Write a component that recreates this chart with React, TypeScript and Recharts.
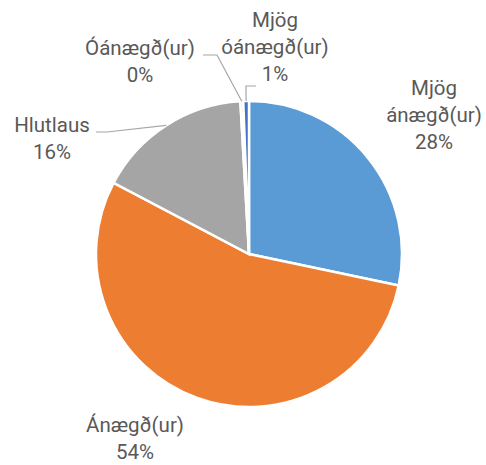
import { PieChart, Pie, Cell } from "recharts";

const TEXT = "#595959";
const LEADER = "#a6a6a6";

const CATEGORIES = [
  "Mjög ánægð(ur)",
  "Ánægð(ur)",
  "Hlutlaus",
  "Óánægð(ur)",
  "Mjög óánægð(ur)",
];
const VALUES = [28.3, 54.4, 16.4, 0.3, 0.6];
const COLORS = ["#5b9bd5", "#ed7d31", "#a5a5a5", "#ffc000", "#4472c4"];
// how each label's name is broken over lines
const NAME_LINES = [
  ["Mjög", "ánægð(ur)"],
  ["Ánægð(ur)"],
  ["Hlutlaus"],
  ["Óánægð(ur)"],
  ["Mjög", "óánægð(ur)"],
];

const data = CATEGORIES.map((name, i) => ({ name, value: VALUES[i] }));

// label placement relative to the pie centre: text centre x, first baseline y,
// and an optional leader line (start, knee) that runs on to the slice edge
const LABEL_LAYOUT: { dx: number; dy: number; leader?: number[][] }[] = [
  { dx: 185, dy: -159 },
  { dx: -114, dy: 178 },
  { dx: -197, dy: -122, leader: [[-153, -122], [-142, -122]] },
  { dx: -109, dy: -199, leader: [[-46, -199], [-32, -199]] },
  { dx: 26, dy: -227, leader: [[7, -168], [-3, -168]] },
];

const LINE_H = 27;

function renderLabel(props: any) {
  const { cx, cy, midAngle, outerRadius, index, percent } = props;
  const lay = LABEL_LAYOUT[index];
  const lines = [...NAME_LINES[index], `${Math.round(percent * 100)}%`];
  const rad = (Math.PI / 180) * midAngle;
  const ex = cx + outerRadius * Math.cos(rad);
  const ey = cy - outerRadius * Math.sin(rad);
  return (
    <g key={`lbl-${index}`}>
      {lay.leader && (
        <polyline
          points={[...lay.leader.map(([x, y]) => `${cx + x},${cy + y}`), `${ex},${ey}`].join(" ")}
          fill="none"
          stroke={LEADER}
          strokeWidth={1.2}
        />
      )}
      <text
        x={cx + lay.dx}
        y={cy + lay.dy}
        textAnchor="middle"
        fill={TEXT}
        fontSize={20.5}
        fontFamily="Roboto, sans-serif"
      >
        {lines.map((l, i) => (
          <tspan key={i} x={cx + lay.dx} dy={i === 0 ? 0 : LINE_H}>
            {l}
          </tspan>
        ))}
      </text>
    </g>
  );
}

export default function App() {
  return (
    <div style={{ position: "absolute", left: 0, top: 0, background: "#fff" }}>
      <PieChart width={486} height={465} margin={{ top: 0, right: 0, bottom: 0, left: 0 }}>
        <Pie
          data={data}
          dataKey="value"
          nameKey="name"
          cx={249}
          cy={254}
          outerRadius={153}
          startAngle={90}
          endAngle={-270}
          stroke="#ffffff"
          strokeWidth={2.5}
          label={renderLabel}
          labelLine={false}
          isAnimationActive={false}
        >
          {data.map((d, i) => (
            <Cell key={d.name} fill={COLORS[i]} />
          ))}
        </Pie>
      </PieChart>
    </div>
  );
}
